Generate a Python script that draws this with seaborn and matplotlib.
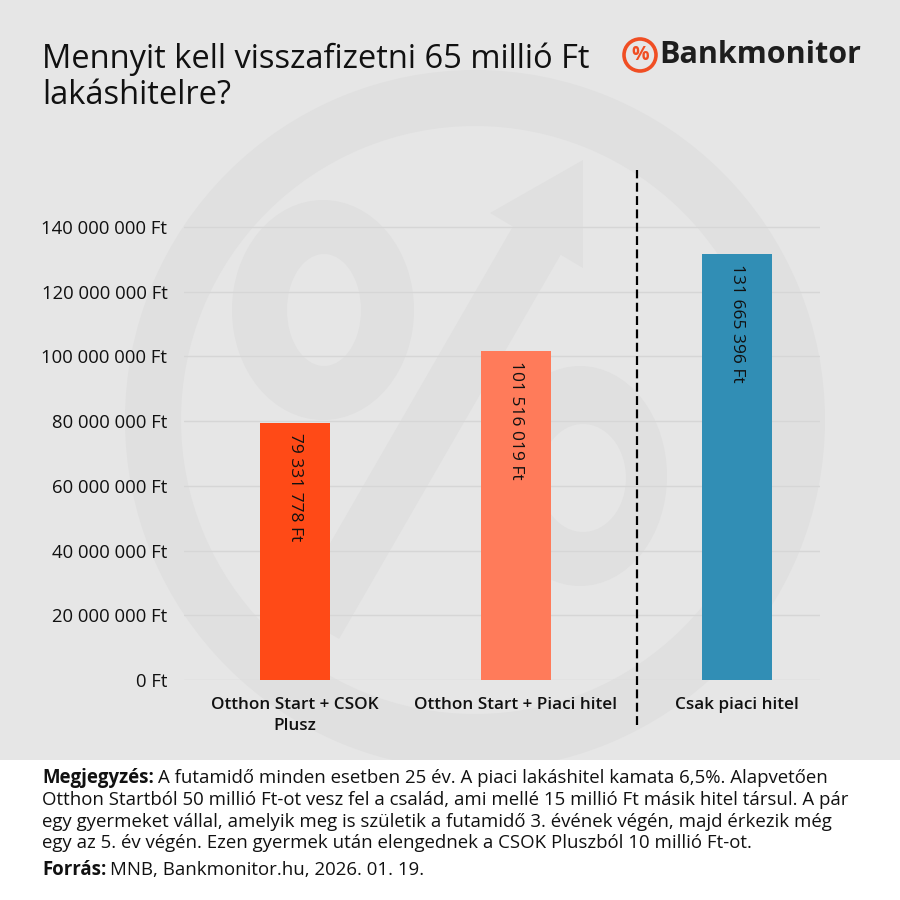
import numpy as np
import pandas as pd
import matplotlib
matplotlib.use("Agg")
import matplotlib.pyplot as plt
import matplotlib.patches as mpatches
import seaborn as sns

# data
categories = ["Otthon Start + CSOK\nPlusz", "Otthon Start + Piaci hitel", "Csak piaci hitel"]
values = [79331778, 101516019, 131665396]
bar_colors = ["#FF4A17", "#FF7B5A", "#318EB5"]
yticks = [0, 20e6, 40e6, 60e6, 80e6, 100e6, 120e6, 140e6]

title = "Mennyit kell visszafizetni 65 millió Ft\nlakáshitelre?"
note_lines = [
    "A futamidő minden esetben 25 év. A piaci lakáshitel kamata 6,5%. Alapvetően",
    "Otthon Startból 50 millió Ft-ot vesz fel a család, ami mellé 15 millió Ft másik hitel társul. A pár",
    "egy gyermeket vállal, amelyik meg is születik a futamidő 3. évének végén, majd érkezik még",
    "egy az 5. év végén. Ezen gyermek után elengednek a CSOK Pluszból 10 millió Ft-ot.",
]
source = "MNB, Bankmonitor.hu, 2026. 01. 19."

df = pd.DataFrame({"cat": categories, "val": values})

sns.set_style("white")
plt.rcParams["font.family"] = ["Open Sans", "DejaVu Sans"]

fig = plt.figure(figsize=(9, 9), dpi=100, facecolor="white")

# background + watermark (pixel coords)
bg = fig.add_axes([0, 0, 1, 1], zorder=0)
bg.set_xlim(0, 900)
bg.set_ylim(900, 0)
bg.axis("off")
bgc = "#E6E6E6"
wm = "#E0E0E0"
bg.add_patch(mpatches.Rectangle((0, 0), 900, 760, color=bgc, lw=0))
bg.add_patch(mpatches.Annulus((475, 420), 350, 56, color=wm, lw=0))
bg.add_patch(mpatches.Ellipse((323, 310), 182, 220, color=wm, lw=0))
bg.add_patch(mpatches.Ellipse((324, 310), 74, 112, color=bgc, lw=0))
bg.add_patch(mpatches.Ellipse((580, 476), 174, 220, color=wm, lw=0))
bg.add_patch(mpatches.Ellipse((583, 478), 86, 108, color=bgc, lw=0))
bg.plot([315, 540], [625, 235], color=wm, lw=40, solid_capstyle="butt")
bg.add_patch(mpatches.Polygon([(583, 160), (490, 213), (583, 268)], color=wm, lw=0))
bg.add_patch(mpatches.Rectangle((0, 760), 900, 140, color="white", lw=0))

# main chart
ax = fig.add_axes([184 / 900, 1 - 680 / 900, 636 / 900, 510 / 900], zorder=2)
ax.set_facecolor("none")
sns.barplot(data=df, x="cat", y="val", hue="cat", palette=bar_colors,
            width=0.317, legend=False, saturation=1, linewidth=0,
            edgecolor="none", ax=ax, zorder=3)
ax.set_xlim(-0.502, 2.376)
ax.set_ylim(0, 157.6e6)
ax.set_yticks(yticks)
ax.set_yticklabels([f"{v:,.0f}".replace(",", " ") + " Ft" for v in yticks])
ax.set_xticks(range(len(categories)), labels=[""] * len(categories))
ax.yaxis.grid(True, color="#D6D6D6", lw=1)
ax.set_axisbelow(True)
for s in ax.spines.values():
    s.set_visible(False)
ax.tick_params(axis="y", length=0, pad=12, labelsize=13.3, colors="#111111")
ax.tick_params(axis="x", length=0)
ax.set_xlabel("")
ax.set_ylabel("")

# category labels under the axis
for i, c in enumerate(categories):
    ax.annotate(c, (i, 0), xytext=(0, -12), textcoords="offset points",
                ha="center", va="top", fontsize=12.3, fontweight="semibold",
                linespacing=1.45, color="#111111", annotation_clip=False)

for i, v in enumerate(values):
    ax.annotate(f"{v:,.0f}".replace(",", " ") + " Ft", (i, v), xytext=(0, -7),
                textcoords="offset points", rotation=270, ha="center", va="top",
                fontsize=12.5, color="#111111", zorder=4)

ax.axvline(1.55, ymin=-0.088, ymax=1, color="black", lw=1.6,
           dashes=(4, 2), clip_on=False, zorder=4)

# title
fig.text(42 / 900, 1 - 43 / 900, title, fontsize=23.5, color="#111111",
         va="top", ha="left", linespacing=1.1)

# logo
bg.add_patch(mpatches.Circle((640, 55), 16, fill=False, ec="#F04E23", lw=2.6, zorder=5))
bg.text(640, 55, "%", color="#F04E23", fontsize=14, fontweight="bold",
        ha="center", va="center", zorder=5)
bg.text(659, 55, "Bankmonitor", color="#1E1E1E", fontsize=22, fontweight="bold",
        ha="left", va="center", zorder=5)

# footer
renderer = fig.canvas.get_renderer()
fs = 13.4
ys = [778, 800, 822, 843]
t = bg.text(42, ys[0], "Megjegyzés:", fontsize=fs, fontweight="bold",
            ha="left", va="center", color="#111111")
w = t.get_window_extent(renderer).width
bg.text(42 + w + 4, ys[0], note_lines[0], fontsize=fs, ha="left", va="center", color="#111111")
for y, line in zip(ys[1:], note_lines[1:]):
    bg.text(42, y, line, fontsize=fs, ha="left", va="center", color="#111111")
t = bg.text(42, 870, "Forrás:", fontsize=fs, fontweight="bold",
            ha="left", va="center", color="#111111")
w = t.get_window_extent(renderer).width
bg.text(42 + w + 4, 870, source, fontsize=fs, ha="left", va="center", color="#111111")

fig.savefig("out.png", dpi=100, facecolor="white")
